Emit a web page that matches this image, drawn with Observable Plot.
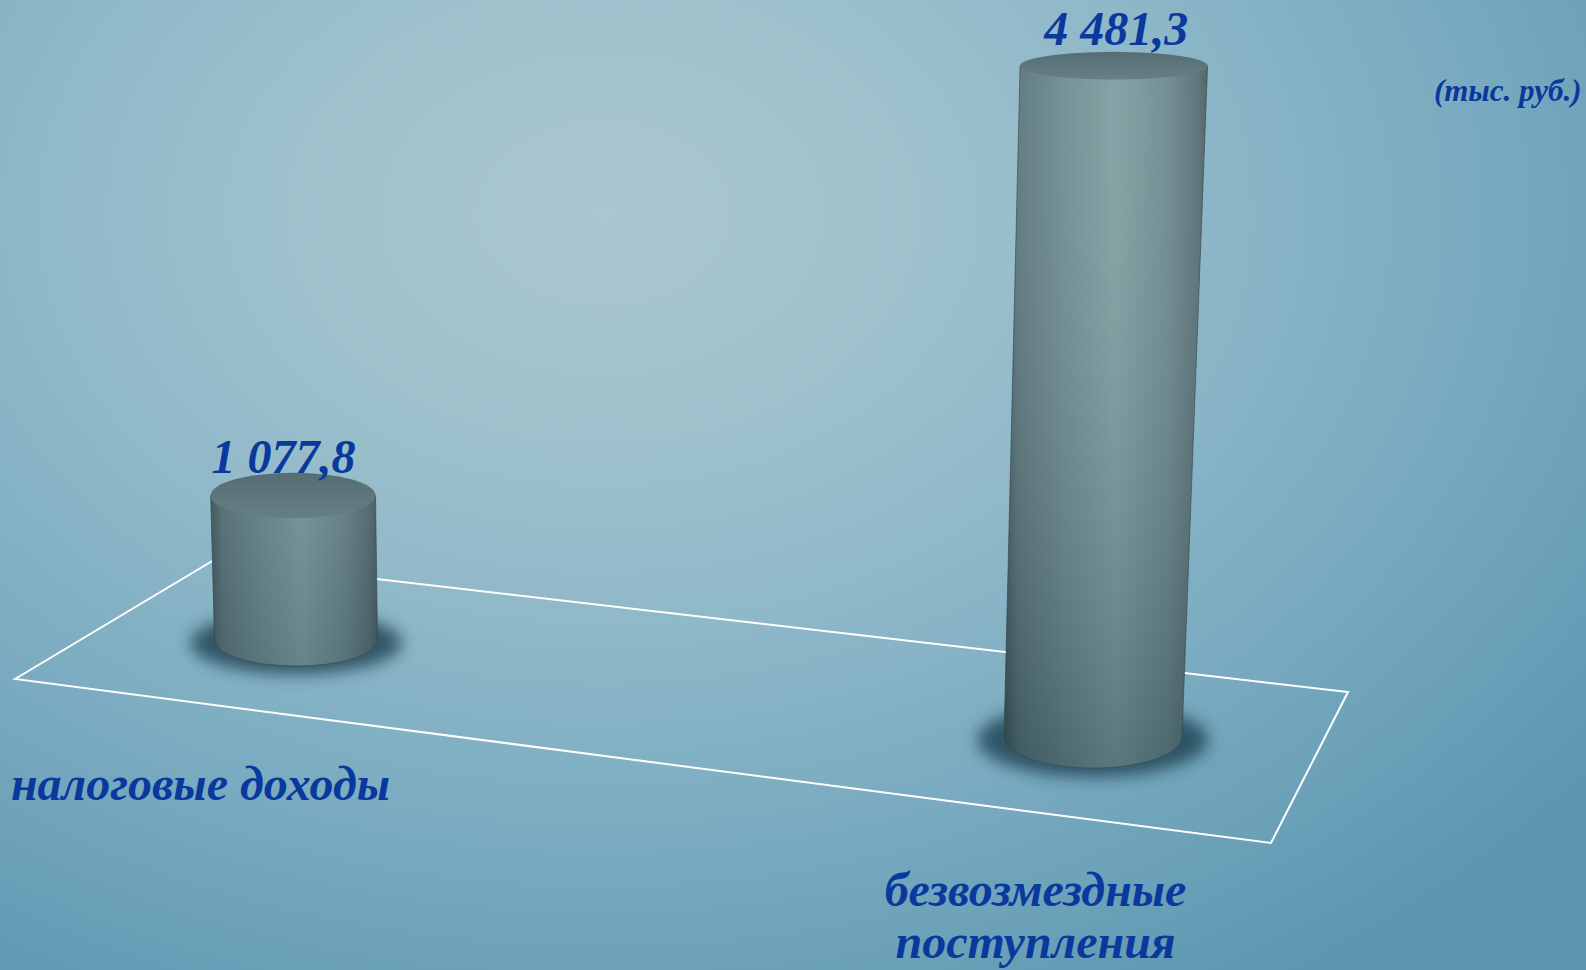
<!DOCTYPE html>
<html>
<head>
<meta charset="utf-8">
<script src="https://cdn.jsdelivr.net/npm/d3@7"></script>
<script src="https://cdn.jsdelivr.net/npm/@observablehq/plot@0.6"></script>
<style>
html, body { margin: 0; padding: 0; width: 1586px; height: 970px; overflow: hidden; }
body {
  background: radial-gradient(ellipse 80% 95% at 38% 22%, #aac7cf 0%, #a0c2cd 22%, #8fb8c9 45%, #7aabc0 68%, #6aa0b8 85%, #5b95af 100%);
}
#chart svg { display: block; }
</style>
</head>
<body>
<div id="chart"></div>
<script>
// ---- data ----
const categories = ["налоговые доходы", "безвозмездные поступления"];
const values = [1077.8, 4481.3];
const categoryLabels = ["налоговые доходы", "безвозмездные\nпоступления"];
const unitLabel = "(тыс. руб.)";

// ---- layout / styling (no data) ----
const L = {
  width: 1586, height: 970,
  xRange: [296, 1093],
  yMax: 4773, yRange: [640, 0],
  tilt: 0.1217, heightGain: 0.000147, widthGain: 0.000115,
  radius: 81.5, topWiden: 0.00008, leanA: -0.02, leanB: 0.000064,
  ryBase: 0.32, ryGain: 0.0003,
  floor: {frontLeft: [-281, 39], backLeft: [-82, -80], backRight: [255, -45], frontRight: [178, 106]},
  valueLabel: {dx: -10, dxGain: 0.015, dyGain: -0.0088},
  catLabel: {dx: -96, dxGain: 0.0477, dy: 159, dyGain: 0.0113},
  font: "'Liberation Serif', 'Times New Roman', serif",
  textColor: "#0a399e",
  fontSize: 48, lineHeight: 1.1
};

const fmt = d3.formatLocale({decimal: ",", thousands: " ", grouping: [3]}).format(",.1f");
const data = categories.map((c, i) => ({category: c, value: values[i], label: categoryLabels[i], valueText: fmt(values[i])}));

function geo(d, scales) {
  const cx = scales.x(d.category), x0 = scales.x(categories[0]);
  const dd = cx - x0;
  const y0 = scales.y(0);
  const by = y0 + L.tilt * dd;
  const h = (y0 - scales.y(d.value)) * (1 + L.heightGain * dd);
  const ty = by - h;
  const rxB = L.radius * (1 + L.widthGain * dd);
  const rxT = rxB * (1 + L.topWiden * h);
  const tx = cx + h * (L.leanA + L.leanB * dd);
  const ry = (y, rx) => rx * (L.ryBase + L.ryGain * (y - y0));
  return {cx, dd, by, ty, tx, h, rxB, rxT, ryB: ry(by, rxB), ryT: ry(ty, rxT)};
}

function renderFloor(index, scales) {
  const g = d3.create("svg:g");
  const defs = g.append("defs");
  const side = defs.append("linearGradient").attr("id", "cylSide").attr("x1", 0).attr("x2", 1).attr("y1", 0).attr("y2", 0);
  [[0, "#3e5559"], [0.07, "#58747a"], [0.3, "#6c8b8f"], [0.55, "#7e9ea1"], [0.8, "#6a888c"], [0.95, "#536d72"], [1, "#465c61"]]
    .forEach(([o, c]) => side.append("stop").attr("offset", o).attr("stop-color", c));
  const shade = defs.append("linearGradient").attr("id", "cylShade").attr("gradientUnits", "userSpaceOnUse")
    .attr("x1", 0).attr("x2", 0).attr("y1", 40).attr("y2", 780);
  shade.append("stop").attr("offset", 0).attr("stop-color", "#ffffff").attr("stop-opacity", 0.06);
  shade.append("stop").attr("offset", 1).attr("stop-color", "#001722").attr("stop-opacity", 0.3);
  const top = defs.append("linearGradient").attr("id", "cylTop").attr("x1", 0).attr("x2", 0).attr("y1", 0).attr("y2", 1);
  top.append("stop").attr("offset", 0).attr("stop-color", "#556e73");
  top.append("stop").attr("offset", 1).attr("stop-color", "#647f86");
  const f = defs.append("filter").attr("id", "cylShadow").attr("x", "-50%").attr("y", "-80%").attr("width", "200%").attr("height", "260%");
  f.append("feGaussianBlur").attr("stdDeviation", 8);

  const a = geo(data[0], scales), b = geo(data[data.length - 1], scales);
  const F = L.floor;
  const pts = [
    [a.cx + F.frontLeft[0], a.by + F.frontLeft[1]],
    [a.cx + F.backLeft[0], a.by + F.backLeft[1]],
    [b.cx + F.backRight[0], b.by + F.backRight[1]],
    [b.cx + F.frontRight[0], b.by + F.frontRight[1]]
  ];
  g.append("polygon").attr("points", pts.map(p => p.join(",")).join(" "))
    .attr("fill", "none").attr("stroke", "#ffffff").attr("stroke-width", 2).attr("stroke-linejoin", "miter");
  return g.node();
}

function renderCylinders(index, scales) {
  const g = d3.create("svg:g");
  for (const i of index) {
    const c = geo(data[i], scales);
    g.append("ellipse").attr("cx", c.cx).attr("cy", c.by + 3).attr("rx", c.rxB * 1.3).attr("ry", c.ryB * 1.2)
      .attr("fill", "#244a5b").attr("fill-opacity", 0.88).attr("filter", "url(#cylShadow)");
    const body = `M${c.cx - c.rxB},${c.by}L${c.tx - c.rxT},${c.ty}L${c.tx + c.rxT},${c.ty}L${c.cx + c.rxB},${c.by}A${c.rxB},${c.ryB} 0 0 1 ${c.cx - c.rxB},${c.by}Z`;
    g.append("path").attr("d", body).attr("fill", "url(#cylSide)");
    g.append("path").attr("d", body).attr("fill", "url(#cylShade)")
      .attr("stroke", "#33464b").attr("stroke-opacity", 0.6).attr("stroke-width", 1);
    g.append("ellipse").attr("cx", c.tx).attr("cy", c.ty).attr("rx", c.rxT).attr("ry", c.ryT).attr("fill", "url(#cylTop)");
  }
  return g.node();
}

const textStyle = {fontFamily: L.font, fontWeight: "bold", fontStyle: "italic", fill: L.textColor, fontSize: L.fontSize};

const chart = Plot.plot({
  width: L.width, height: L.height,
  margin: 0,
  style: "background: transparent; overflow: visible;",
  x: {type: "point", domain: categories, range: L.xRange, padding: 0, axis: null},
  y: {domain: [0, L.yMax], range: L.yRange, axis: null},
  marks: [
    Plot.dot(data, {x: "category", y: "value", render: renderFloor}),
    Plot.dot(data, {x: "category", y: "value", render: renderCylinders}),
    Plot.text(data, {
      x: "category", y: "value", text: "valueText", ...textStyle, lineAnchor: "bottom", textAnchor: "middle",
      render(index, scales, values, dimensions, context, next) {
        const X = Float64Array.from(values.x), Y = Float64Array.from(values.y);
        for (const i of index) {
          const c = geo(data[i], scales);
          X[i] = c.tx + L.valueLabel.dx + L.valueLabel.dxGain * c.dd;
          Y[i] = c.ty - c.ryT + L.valueLabel.dyGain * c.dd;
        }
        return next(index, scales, {...values, x: X, y: Y}, dimensions, context);
      }
    }),
    Plot.text(data, {
      x: "category", y: "value", text: "label", ...textStyle, lineAnchor: "top", lineHeight: L.lineHeight, textAnchor: "middle",
      render(index, scales, values, dimensions, context, next) {
        const X = Float64Array.from(values.x), Y = Float64Array.from(values.y);
        for (const i of index) {
          const c = geo(data[i], scales);
          X[i] = c.cx + L.catLabel.dx + L.catLabel.dxGain * c.dd;
          Y[i] = c.by + L.catLabel.dy + L.catLabel.dyGain * c.dd - 0.71 * L.lineHeight * L.fontSize;
        }
        return next(index, scales, {...values, x: X, y: Y}, dimensions, context);
      }
    }),
    Plot.text([unitLabel], {
      text: d => d, frameAnchor: "top-right", dx: -5, dy: 100, lineAnchor: "bottom", textAnchor: "end",
      fontFamily: L.font, fontWeight: "bold", fontStyle: "italic", fill: L.textColor, fontSize: 31
    })
  ]
});
document.getElementById("chart").appendChild(chart);
</script>
</body>
</html>
